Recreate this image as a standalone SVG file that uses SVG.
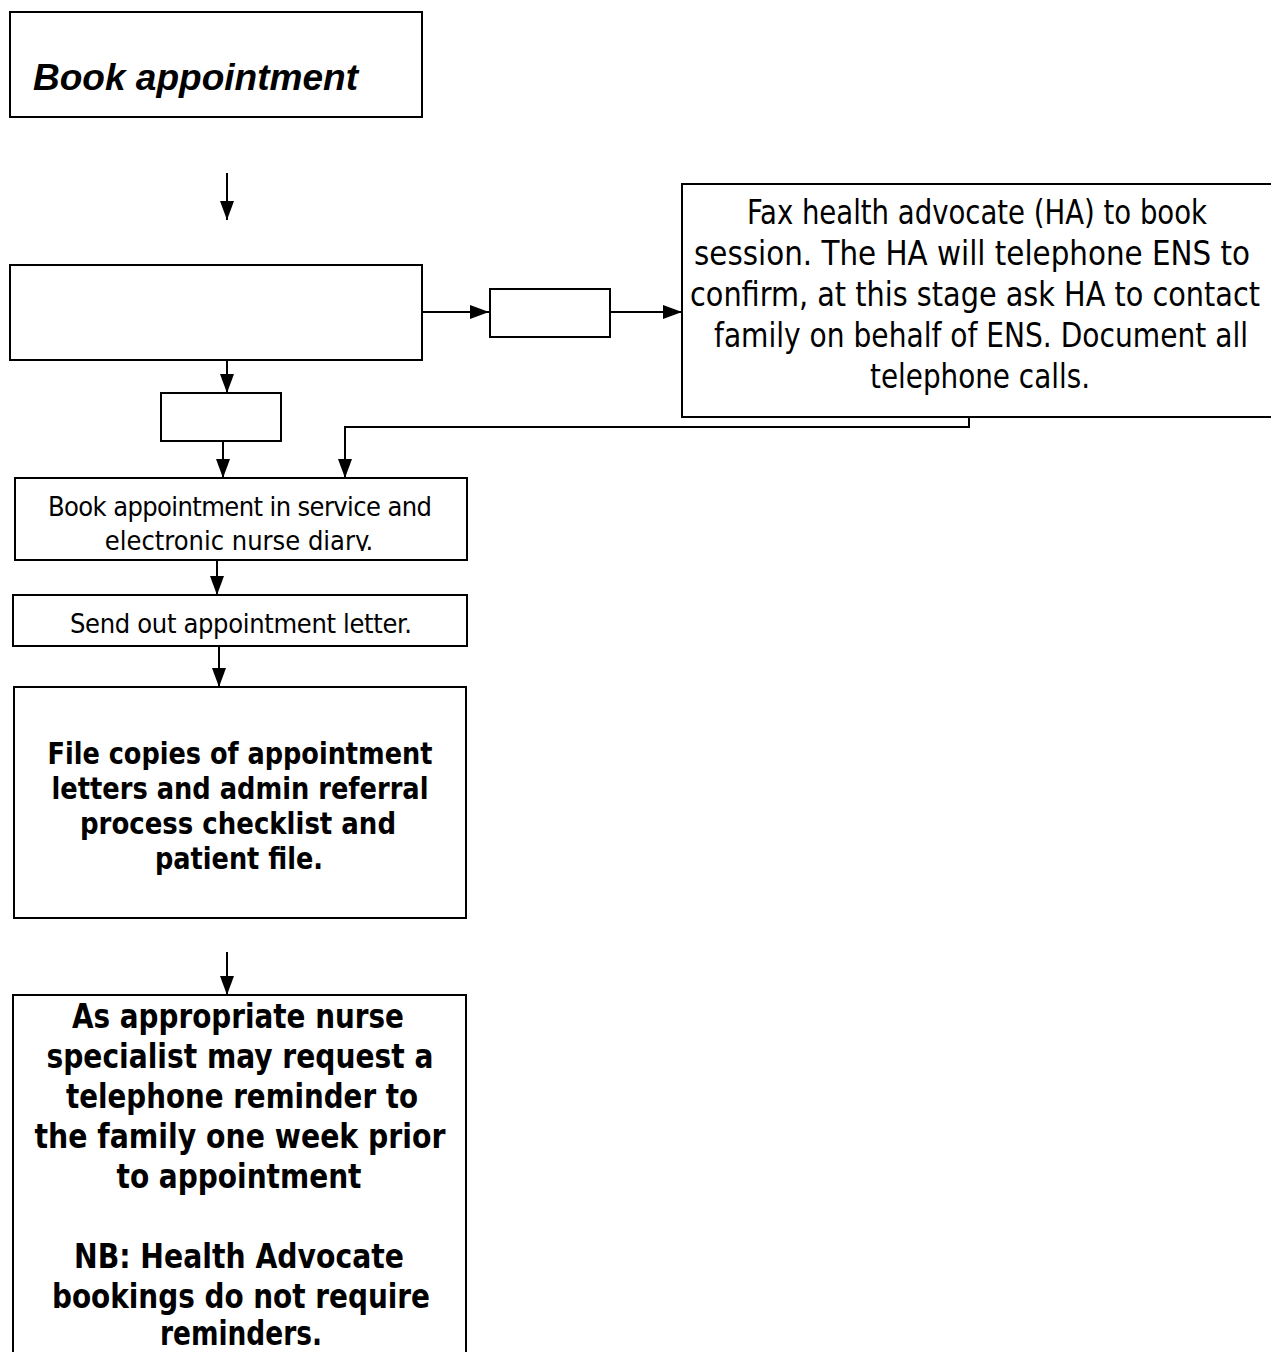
<svg xmlns="http://www.w3.org/2000/svg" width="1271" height="1352" viewBox="0 0 1271 1352">
  <style>
    .box { fill: #ffffff; stroke: #000000; stroke-width: 2; }
    .edge { fill: none; stroke: #000000; stroke-width: 2; }
    .t { font-family: "DejaVu Sans Condensed", "DejaVu Sans", Verdana, sans-serif; fill: #000000; text-anchor: middle; }
    .b { font-weight: bold; }
    .title { font-family: "Liberation Sans", Arial, sans-serif; font-weight: bold; font-style: italic; font-size: 37px; fill: #000000; }
  </style>
  <defs>
    <marker id="arrow" markerUnits="userSpaceOnUse" markerWidth="19" markerHeight="16" refX="19" refY="8" orient="auto">
      <path d="M0,1 L19,8 L0,15 Z" fill="#000000"/>
    </marker>
    <clipPath id="clip-diary">
      <rect x="15" y="478" width="452" height="73"/>
    </clipPath>
  </defs>

  <rect width="1271" height="1352" fill="#ffffff"/>

  <!-- connectors -->
  <g id="connectors">
    <line class="edge" x1="227" y1="173" x2="227" y2="220" marker-end="url(#arrow)"/>
    <line class="edge" x1="417" y1="312" x2="489" y2="312" marker-end="url(#arrow)"/>
    <line class="edge" x1="611" y1="312" x2="682" y2="312" marker-end="url(#arrow)"/>
    <line class="edge" x1="227" y1="360" x2="227" y2="393" marker-end="url(#arrow)"/>
    <line class="edge" x1="223" y1="441" x2="223" y2="478" marker-end="url(#arrow)"/>
    <polyline class="edge" points="969,382 969,427 345,427 345,478" marker-end="url(#arrow)"/>
    <line class="edge" x1="217" y1="560" x2="217" y2="595" marker-end="url(#arrow)"/>
    <line class="edge" x1="219" y1="646" x2="219" y2="687" marker-end="url(#arrow)"/>
    <line class="edge" x1="227" y1="952" x2="227" y2="995" marker-end="url(#arrow)"/>
  </g>

  <!-- nodes -->
  <g id="book-appointment">
    <rect class="box" x="10" y="12" width="412" height="105"/>
    <text class="title" x="33" y="90" textLength="325" lengthAdjust="spacingAndGlyphs">Book appointment</text>
  </g>

  <g id="blank-step">
    <rect class="box" x="10" y="265" width="412" height="95"/>
  </g>

  <g id="blank-branch">
    <rect class="box" x="490" y="289" width="120" height="48"/>
  </g>

  <g id="fax-health-advocate">
    <rect class="box" x="682" y="184" width="592" height="233"/>
    <text class="t" font-size="34" x="977" y="224" textLength="460" lengthAdjust="spacingAndGlyphs">Fax health advocate (HA) to book</text>
    <text class="t" font-size="34" x="972" y="265" textLength="556" lengthAdjust="spacingAndGlyphs">session. The HA will telephone ENS to</text>
    <text class="t" font-size="34" x="975" y="306" textLength="570" lengthAdjust="spacingAndGlyphs">confirm, at this stage ask HA to contact</text>
    <text class="t" font-size="34" x="981" y="347" textLength="534" lengthAdjust="spacingAndGlyphs">family on behalf of ENS. Document all</text>
    <text class="t" font-size="34" x="980" y="388" textLength="220" lengthAdjust="spacingAndGlyphs">telephone calls.</text>
  </g>

  <g id="blank-check">
    <rect class="box" x="161" y="393" width="120" height="48"/>
  </g>

  <g id="book-in-diary">
    <rect class="box" x="15" y="478" width="452" height="82"/>
    <g clip-path="url(#clip-diary)">
      <text class="t" font-size="27" x="240" y="516" textLength="384" lengthAdjust="spacing">Book appointment in service and</text>
      <text class="t" font-size="27" x="239" y="550">electronic nurse diary.</text>
    </g>
  </g>

  <g id="send-letter">
    <rect class="box" x="13" y="595" width="454" height="51"/>
    <text class="t" font-size="27" x="241" y="633" textLength="342" lengthAdjust="spacing">Send out appointment letter.</text>
  </g>

  <g id="file-copies">
    <rect class="box" x="14" y="687" width="452" height="231"/>
    <text class="t b" font-size="30" x="240" y="764" textLength="385" lengthAdjust="spacingAndGlyphs">File copies of appointment</text>
    <text class="t b" font-size="30" x="240" y="799" textLength="377" lengthAdjust="spacingAndGlyphs">letters and admin referral</text>
    <text class="t b" font-size="30" x="238" y="834" textLength="316" lengthAdjust="spacingAndGlyphs">process checklist and</text>
    <text class="t b" font-size="30" x="239" y="869" textLength="168" lengthAdjust="spacingAndGlyphs">patient file.</text>
  </g>

  <g id="telephone-reminder">
    <rect class="box" x="13" y="995" width="453" height="380"/>
    <text class="t b" font-size="33" x="238" y="1028" textLength="332" lengthAdjust="spacingAndGlyphs">As appropriate nurse</text>
    <text class="t b" font-size="33" x="240" y="1068" textLength="387" lengthAdjust="spacingAndGlyphs">specialist may request a</text>
    <text class="t b" font-size="33" x="242" y="1108" textLength="352" lengthAdjust="spacingAndGlyphs">telephone reminder to</text>
    <text class="t b" font-size="33" x="240" y="1148" textLength="411" lengthAdjust="spacingAndGlyphs">the family one week prior</text>
    <text class="t b" font-size="33" x="239" y="1188" textLength="245" lengthAdjust="spacingAndGlyphs">to appointment</text>
    <text class="t b" font-size="33" x="239" y="1268" textLength="330" lengthAdjust="spacingAndGlyphs">NB: Health Advocate</text>
    <text class="t b" font-size="33" x="241" y="1308" textLength="378" lengthAdjust="spacingAndGlyphs">bookings do not require</text>
    <text class="t b" font-size="33" x="241" y="1345" textLength="162" lengthAdjust="spacingAndGlyphs">reminders.</text>
  </g>
</svg>
